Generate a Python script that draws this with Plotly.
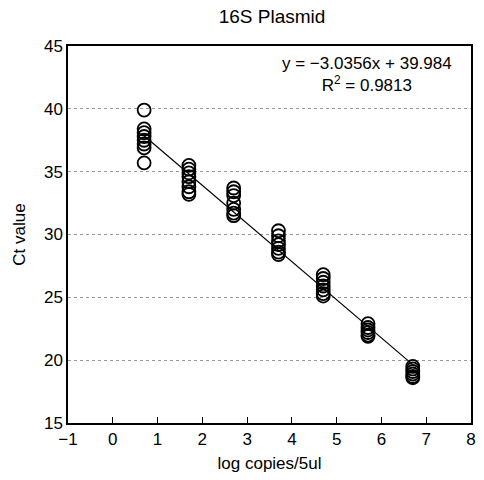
import plotly.graph_objects as go

# Data
log_copies = [0.7]*8 + [1.7]*8 + [2.7]*7 + [3.7]*7 + [4.7]*7 + [5.7]*6 + [6.7]*6
ct_values = [
    39.9, 38.4, 38.1, 37.8, 37.5, 37.2, 36.9, 35.7,
    35.5, 35.2, 34.9, 34.6, 34.2, 33.8, 33.4, 33.2,
    33.7, 33.4, 33.1, 32.5, 32.0, 31.7, 31.5,
    30.3, 29.9, 29.5, 29.2, 28.9, 28.6, 28.4,
    26.8, 26.5, 26.2, 25.9, 25.6, 25.3, 25.1,
    22.9, 22.6, 22.4, 22.2, 22.0, 21.9,
    19.5, 19.3, 19.1, 18.9, 18.7, 18.6,
]
slope = -3.0356
intercept = 39.984
r_squared = 0.9813

fit_x = [min(log_copies), max(log_copies)]
fit_y = [slope * v + intercept for v in fit_x]

FONT = "Liberation Sans, Arial, sans-serif"
L, R, T, B = 68, 476, 46, 423

fig = go.Figure()
fig.add_trace(go.Scatter(
    x=log_copies, y=ct_values, mode="markers",
    marker=dict(symbol="circle-open", size=13, color="black", line=dict(width=1.8, color="black")),
    showlegend=False,
))
fig.add_trace(go.Scatter(
    x=fit_x, y=fit_y, mode="lines",
    line=dict(color="black", width=1.2),
    showlegend=False,
))

fig.add_annotation(
    x=(371 - L) / (R - L), y=0.985, xref="paper", yref="paper",
    text=f"y = −{abs(slope):.4f}x + {intercept:.3f}<br>R<sup>2</sup> = {r_squared:.4f}",
    showarrow=False, align="center", xanchor="center", yanchor="top",
    font=dict(family=FONT, size=17, color="black"),
)

fig.update_layout(
    width=484, height=480,
    margin=dict(l=L, r=484 - R, t=T, b=480 - B),
    paper_bgcolor="white", plot_bgcolor="white",
    title=dict(text="16S Plasmid", x=272 / 484, xanchor="center", y=1 - 16 / 480, yanchor="middle",
               font=dict(family=FONT, size=19, color="black")),
    font=dict(family=FONT, size=17, color="black"),
)
fig.update_xaxes(
    range=[-1, 8], dtick=1, tick0=-1,
    showline=True, linecolor="black", linewidth=1.5, mirror=True,
    ticks="inside", ticklen=6, tickcolor="black", tickwidth=1,
    showgrid=False, zeroline=False,
    title=dict(text="log copies/5ul", font=dict(family=FONT, size=17), standoff=9),
    tickfont=dict(family=FONT, size=17),
)
fig.update_yaxes(
    range=[15, 45], dtick=5,
    showline=True, linecolor="black", linewidth=1.5, mirror=True,
    ticks="", showgrid=True, gridcolor="#999999", griddash="dot", gridwidth=1,
    zeroline=False,
    title=dict(text="Ct value", font=dict(family=FONT, size=17), standoff=14),
    tickfont=dict(family=FONT, size=17),
)

fig.write_html("out.html")
